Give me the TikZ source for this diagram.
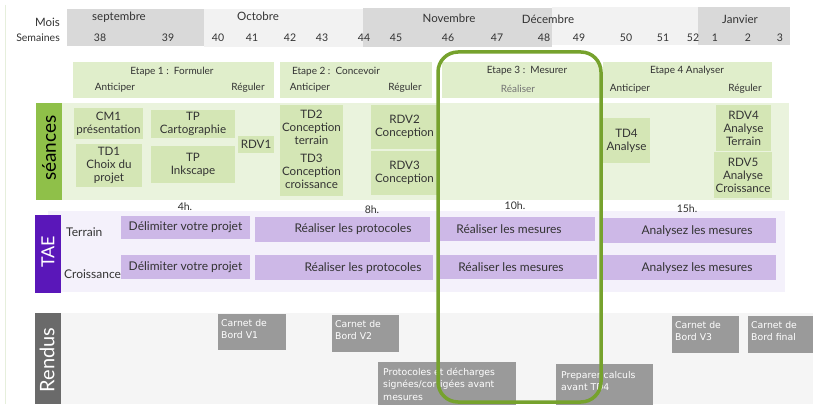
\documentclass[tikz,border=0pt]{standalone}
\usepackage{fontspec}
\setmainfont{Lato}
\newfontfamily\vfont{DejaVu Sans}
\definecolor{hdrD}{HTML}{D9D9D9}
\definecolor{hdrL}{HTML}{F2F2F2}
\definecolor{etapeC}{HTML}{E0EECB}
\definecolor{seBg}{HTML}{EAF3DD}
\definecolor{seBox}{HTML}{D4E6B5}
\definecolor{seLab}{HTML}{8FC049}
\definecolor{taeBg}{HTML}{F4F1FB}
\definecolor{taeBox}{HTML}{CDB8E7}
\definecolor{taeLab}{HTML}{5A17B9}
\definecolor{reBg}{HTML}{F5F5F5}
\definecolor{reBox}{HTML}{9A9A9A}
\definecolor{reLab}{HTML}{6A6A6A}
\definecolor{focusC}{HTML}{76A22D}
\definecolor{txt}{HTML}{333333}
\definecolor{leftC}{HTML}{E6EFDC}
\newcommand\bx[7]{\node[#1,anchor=north west,minimum width={(#5-#3)*1pt},minimum height={(#6-#4)*1pt},inner sep=0pt,outer sep=0pt] (#2) at (#3,#4) {#7};}
\tikzset{
  hdrtxt/.style={text=txt,font=\fontsize{11.5}{12}\selectfont,inner sep=0pt},
  sidetxt/.style={text=txt,font=\fontsize{10.5}{12}\selectfont,inner sep=0pt},
  wk/.style={text=txt,font=\fontsize{10.5}{12}\selectfont,inner sep=0pt},
  etbox/.style={fill=etapeC},
  ettxt/.style={text=txt,font=\fontsize{10}{12}\selectfont,inner sep=0pt},
  sebox/.style={fill=seBox,text=txt,align=center,font=\fontsize{11.6}{13}\selectfont},
  setxt/.style={text=txt,align=center,font=\fontsize{11.6}{13}\selectfont,inner sep=0pt},
  hrs/.style={text=txt,font=\fontsize{10.5}{11}\selectfont,inner sep=0pt},
  taebox/.style={fill=taeBox,text=txt,font=\fontsize{12}{13}\selectfont},
  taetxt/.style={text=txt,font=\fontsize{12}{13}\selectfont,inner sep=0pt},
  rebox/.style={fill=reBox},
  retxt/.style={text=white,align=left,font=\vfont\fontsize{9.3}{12.3}\selectfont,inner sep=0pt,anchor=north west},
  lab/.style={rotate=90,inner sep=0pt},
  focus/.style={draw=focusC,line width=3.5pt,rounded corners=20pt,fill=none}
}
\begin{document}
\begin{tikzpicture}[x=1pt,y=-1pt]
\useasboundingbox[fill=white] (0,0) rectangle (813,404);
\coordinate (lt) at (5,5);
\coordinate (lb) at (5,404);
\draw[leftC,line width=1pt] (lt) -- (lb);
% header
\bx{fill=hdrD}{sepband}{67}{9}{204}{46}{}
\bx{fill=hdrL}{octband}{204}{9}{363}{47}{}
\bx{fill=hdrD}{novband}{363}{8}{552}{47}{}
\bx{fill=hdrL}{decband}{552}{7}{698}{45}{}
\bx{fill=hdrD}{janband}{698}{7}{790}{45}{}
\node[hdrtxt,anchor=east] (mois) at (60,22) {Mois};
\node[sidetxt,anchor=east] (sem) at (60,38) {Semaines};
\node[hdrtxt] (msep) at (119,17) {septembre};
\node[hdrtxt] (moct) at (258,16) {Octobre};
\node[hdrtxt] (mnov) at (449,18) {Novembre};
\node[hdrtxt] (mdec) at (548,19) {Décembre};
\node[hdrtxt] (mjan) at (740,19) {Janvier};
\node[wk] (w38) at (100,38) {38};
\node[wk] (w39) at (168,38) {39};
\node[wk] (w40) at (218,38) {40};
\node[wk] (w41) at (252,38) {41};
\node[wk] (w42) at (290,38) {42};
\node[wk] (w43) at (322,38) {43};
\node[wk] (w44) at (364,38) {44};
\node[wk] (w45) at (396,38) {45};
\node[wk] (w46) at (448,38) {46};
\node[wk] (w47) at (497,38) {47};
\node[wk] (w48) at (544,38) {48};
\node[wk] (w49) at (579,38) {49};
\node[wk] (w50) at (626,38) {50};
\node[wk] (w51) at (663,38) {51};
\node[wk] (w52) at (693,38) {52};
\node[wk] (w1) at (715,38) {1};
\node[wk] (w2) at (748,38) {2};
\node[wk] (w3) at (780,38) {3};
% etapes
\bx{etbox}{e1}{73}{62}{274}{98}{}
\bx{etbox}{e2}{280}{62}{432}{98}{}
\bx{etbox}{e3}{442}{62}{600}{98}{}
\bx{etbox}{e4}{603}{62}{772}{98}{}
\node[ettxt] (e1t) at (172,72) {Etape 1 :~~Formuler};
\node[ettxt] (e1a) at (115,88) {Anticiper};
\node[ettxt] (e1r) at (248,88) {Réguler};
\node[ettxt] (e2t) at (336,72) {Etape 2 :~~Concevoir};
\node[ettxt] (e2a) at (310,88) {Anticiper};
\node[ettxt] (e2r) at (405,88) {Réguler};
\node[ettxt] (e3t) at (527,71) {Etape 3 :~~Mesurer};
\node[ettxt,text=black!55] (e3r) at (518,89) {Réaliser};
\node[ettxt] (e4t) at (687,71) {Etape 4 Analyser};
\node[ettxt] (e4a) at (630,89) {Anticiper};
\node[ettxt] (e4r) at (745,89) {Réguler};
% seances
\bx{fill=seBg}{sebg}{62}{103}{789}{200}{}
\bx{fill=seLab}{selab}{36}{103}{62}{200}{}
\node[lab,text=black,font=\fontsize{19}{20}\selectfont] (selabt) at (49,148) {séances};
\bx{sebox}{cm1}{74}{108}{143}{139}{CM1\\présentation}
\bx{sebox}{td1}{76}{144}{142}{187}{TD1\\Choix du\\projet}
\bx{sebox}{tpc}{151}{110}{235}{138}{TP\\Cartographie}
\bx{sebox}{tpi}{151}{146}{235}{183}{TP\\Inkscape}
\bx{sebox}{rdv1}{238}{136}{274}{153}{RDV1}
\bx{sebox}{td23}{280}{105}{343}{196}{}
\node[setxt] (td2t) at (311.5,127.5) {TD2\\Conception\\terrain};
\node[setxt] (td3t) at (311.5,171) {TD3\\Conception\\croissance};
\bx{sebox}{rdv2}{371}{105}{438}{149}{RDV2\\Conception}
\bx{sebox}{rdv3}{371}{151}{438}{195}{RDV3\\Conception}
\bx{sebox}{td4}{603}{118}{650}{163}{TD4\\Analyse}
\bx{sebox}{rdv4}{716}{105}{771}{151}{RDV4\\Analyse\\Terrain}
\bx{sebox}{rdv5}{714}{152}{772}{198}{RDV5\\Analyse\\Croissance}
% TAE
\bx{fill=taeBg}{taebg}{48}{211}{785}{292}{}
\node[hrs] (h4) at (185,207) {4h.};
\node[hrs] (h8) at (372,210) {8h.};
\node[hrs] (h10) at (515,206) {10h.};
\node[hrs] (h15) at (687,209) {15h.};
\bx{fill=taeLab}{taelab}{35}{215}{61}{293}{}
\node[lab,text=white,font=\fontsize{18}{20}\selectfont] (taelabt) at (48,252) {TAE};
\node[taetxt,anchor=west] (terr) at (66,232) {Terrain};
\node[taetxt,anchor=west] (crois) at (64,274) {Croissance};
\bx{taebox}{t1}{121}{216}{250}{239}{Délimiter votre projet}
\bx{taebox}{t2}{255}{217}{430}{242}{}
\node[taetxt] (t2t) at (353,229) {Réaliser les protocoles};
\bx{taebox}{t3}{440}{217}{595}{241}{}
\node[taetxt] (t3t) at (509,229) {Réaliser les mesures};
\bx{taebox}{t4}{603}{218}{776}{243}{}
\node[taetxt] (t4t) at (697,231) {Analysez les mesures};
\bx{taebox}{c1}{121}{255}{250}{279}{Délimiter votre projet}
\bx{taebox}{c2}{255}{255}{433}{280}{}
\node[taetxt] (c2t) at (363,268) {Réaliser les protocoles};
\bx{taebox}{c3}{440}{255}{597}{279}{}
\node[taetxt] (c3t) at (511,267) {Réaliser les mesures};
\bx{taebox}{c4}{603}{255}{776}{280}{}
\node[taetxt] (c4t) at (697,268) {Analysez les mesures};
% Rendus
\bx{fill=reBg}{rebg}{61}{313}{813}{404}{}
\bx{fill=reLab}{relab}{35}{313}{61}{404}{}
\node[lab,text=white,font=\fontsize{20}{22}\selectfont] (relabt) at (47,360) {Rendus};
\bx{rebox}{r1}{218}{314}{286}{350}{}
\node[retxt] (r1t) at (221,319) {Carnet de\\Bord V1};
\bx{rebox}{r2}{332}{315}{399}{352}{}
\node[retxt] (r2t) at (335,320) {Carnet de\\Bord V2};
\bx{rebox}{r3}{378}{362}{516}{410}{}
\node[retxt] (r3t) at (383,368) {Protocoles et décharges\\signées/corrigées avant\\mesures};
\bx{rebox}{r4}{556}{364}{653}{410}{}
\node[retxt] (r4t) at (561,371) {Preparer calculs\\avant TD4};
\bx{rebox}{r5}{672}{316}{739}{353}{}
\node[retxt] (r5t) at (675,321) {Carnet de\\Bord V3};
\bx{rebox}{r6}{748}{316}{815}{353}{}
\node[retxt] (r6t) at (751,321) {Carnet de\\Bord final};
% focus frame
\bx{focus}{focusbox}{438}{52}{601}{402}{}
\end{tikzpicture}
\end{document}
